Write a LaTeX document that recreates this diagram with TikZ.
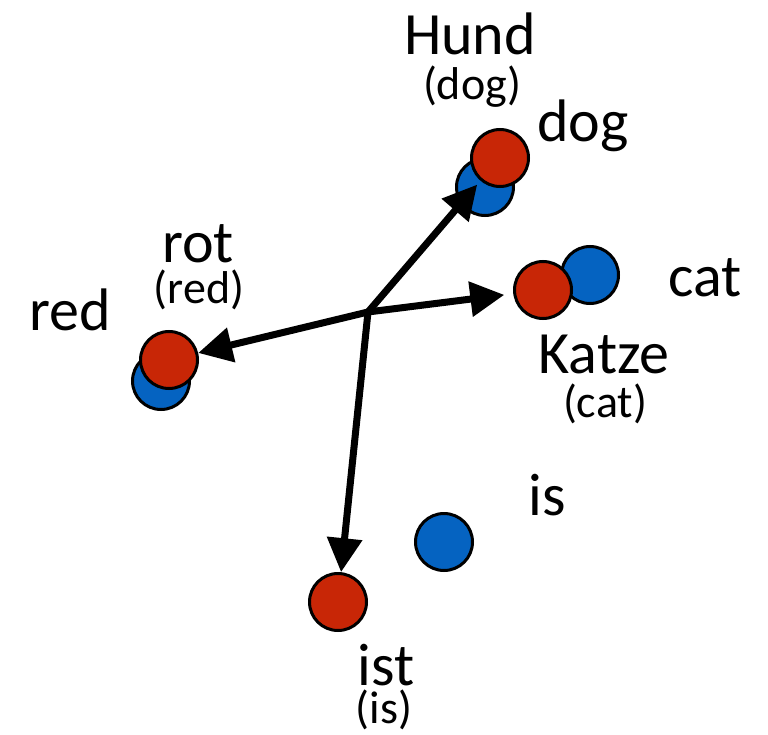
\documentclass[tikz,border=0pt]{standalone}
\usepackage{fontspec}
\setmainfont{Carlito}
\usetikzlibrary{arrows.meta}
\definecolor{dotred}{RGB}{200,38,6}
\definecolor{dotblue}{RGB}{5,99,193}
\begin{document}
\begin{tikzpicture}[x=1pt,y=-1pt,
  dot/.style={circle,draw=black,line width=3pt,minimum size=57pt,inner sep=0pt},
  reddot/.style={dot,fill=dotred},
  bluedot/.style={dot,fill=dotblue},
  word/.style={anchor=base,inner sep=0pt,font=\fontsize{60}{72}\selectfont},
  gloss/.style={anchor=base,inner sep=0pt,font=\fontsize{46}{55}\selectfont},
  vec/.style={line width=7pt,-{Triangle[length=34pt,width=34pt]}}]
\useasboundingbox (0,0) rectangle (768,735);

% English embeddings (blue)
\node[bluedot] (dogB) at (485,187) {};
\node[bluedot] (redB) at (161,381) {};
\node[bluedot] (catB) at (590,275) {};
\node[bluedot] (isB)  at (444,542) {};

% German embeddings (red)
\node[reddot] (dogR) at (500,158) {};
\node[reddot] (redR) at (169,360) {};
\node[reddot] (catR) at (543,290) {};
\node[reddot] (istR) at (338,602) {};

% vectors from the common origin
\coordinate (o) at (368,312);
\draw[vec,shorten >=5pt] (o) -- (dogR);
\draw[vec] (o) -- (redR);
\draw[vec,shorten >=9pt] (o) -- (catR);
\draw[vec] (o) -- (istR);

% labels
\node[word]  (hund)   at (470,55)  {Hund};
\node[gloss] (hundg)  at (472,100) {(dog)};
\node[word]  (dogL)   at (583,142) {dog};
\node[word]  (rot)    at (198,263) {rot};
\node[gloss] (rotg)   at (199,303) {(red)};
\node[word]  (redL)   at (70,330)  {red};
\node[word]  (catL)   at (705,297) {cat};
\node[word]  (katze)  at (604,373) {Katze};
\node[gloss] (katzeg) at (605,417) {(cat)};
\node[word]  (isL)    at (547,515) {is};
\node[word]  (ist)    at (386,685) {ist};
\node[gloss] (istg)   at (384,723) {(is)};
\end{tikzpicture}
\end{document}
